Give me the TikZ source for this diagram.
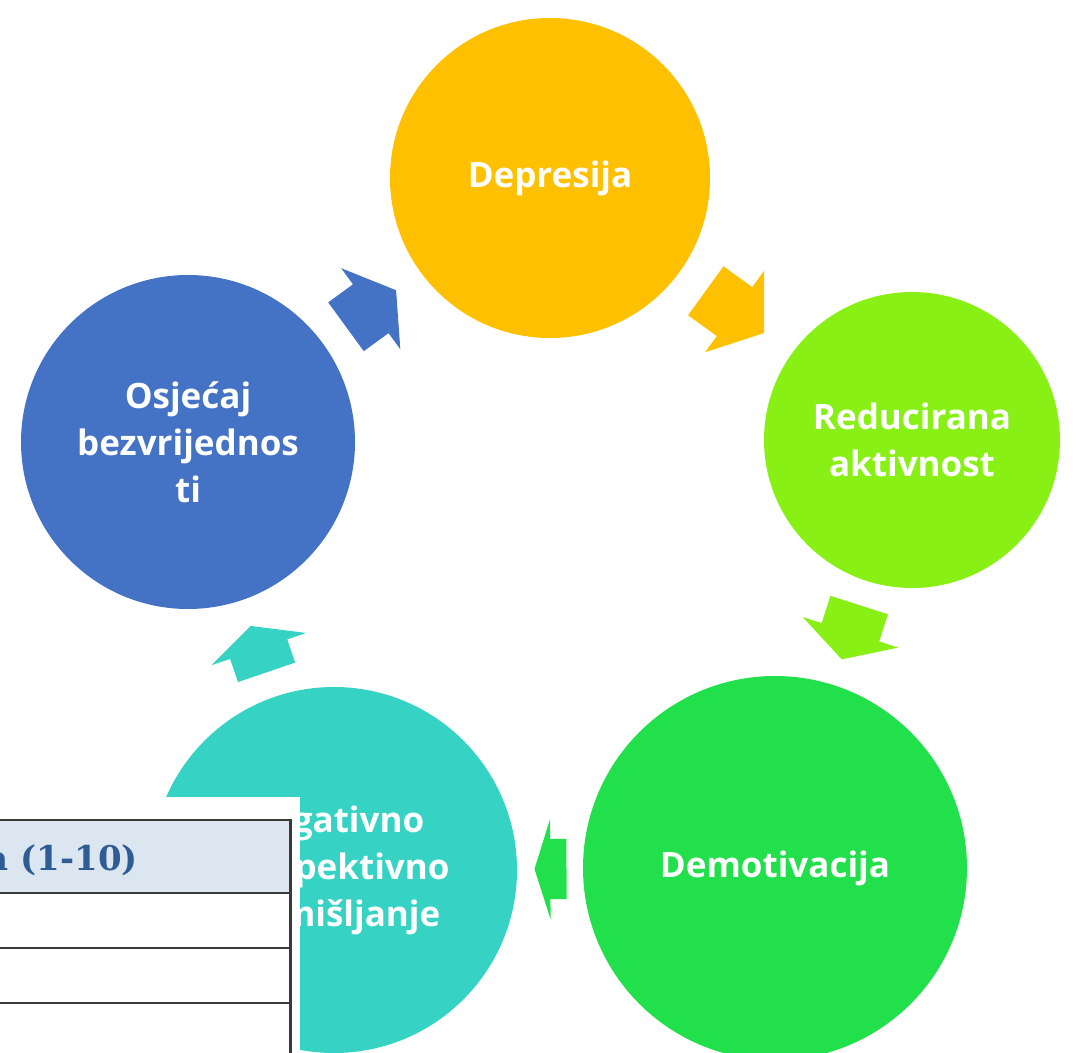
\documentclass[tikz,border=0pt]{standalone}
\usepackage{fontspec}
\setmainfont{Open Sans}
\newfontfamily\tablefont{DejaVu Serif}
\usepackage{tikz}
\usetikzlibrary{shapes.arrows}

\definecolor{depyellow}{HTML}{FFC000}
\definecolor{redlime}{HTML}{88F015}
\definecolor{demgreen}{HTML}{22E04B}
\definecolor{negteal}{HTML}{36D3C5}
\definecolor{osjblue}{HTML}{4472C4}
\definecolor{tablehead}{HTML}{DCE6F1}
\definecolor{tabletext}{HTML}{2E5C95}
\definecolor{tableline}{HTML}{3A3A3A}

\tikzset{
  bubble/.style={circle, inner sep=0pt, text=white, align=center,
    font=\bfseries\fontsize{35}{47}\selectfont},
  cyclearrow/.style={single arrow, inner xsep=0pt, inner ysep=30pt,
    single arrow head extend=20pt, midway, sloped, allow upside down}
}

\begin{document}
\begin{tikzpicture}[x=1pt,y=1pt]
    \useasboundingbox (0,0) rectangle (1076,-1052);

    % draw circles
    \node[bubble, fill=depyellow, minimum size=320pt] (dep) at (550,-178) {Depresija};
    \node[bubble, fill=redlime, minimum size=296pt] (red) at (912,-440) {Reducirana\\aktivnost};
    \node[bubble, fill=demgreen, minimum size=384pt] (dem) at (775,-868) {Demotivacija};
    \node[bubble, fill=negteal, minimum size=366pt] (neg) at (334,-870) {Negativno\\perspektivno\\razmišljanje};
    \node[bubble, fill=osjblue, minimum size=334pt] (osj) at (188,-442) {Osjećaj\\bezvrijednos\\ti};

    % draw arrows between circles
    \foreach \a/\b/\col/\len/\tip in {osj/dep/osjblue/62/116, dep/red/depyellow/72/108,
        red/dem/redlime/57/121, dem/neg/demgreen/32/145, neg/osj/negteal/49/128}
    \path (\a) -- (\b) node[cyclearrow, fill=\col, minimum height=\len pt,
      single arrow tip angle=\tip, xshift={-50/(3*tan(\tip/2))}] {};

    % draw table on top
    \fill[white] (0,-797) rectangle (300,-1060);
    \fill[tablehead] (0,-820) rectangle (290,-893);
    \draw[tableline, line width=2pt] (-5,-820) -- (290,-820);
    \foreach \y in {893,948,1003}
    \draw[tableline, line width=2pt] (-5,-\y) -- (290,-\y);
    \draw[tableline, line width=3pt] (290,-819) -- (290,-1060);
    \node[anchor=base east, inner sep=0pt, text=tabletext,
      font=\tablefont\bfseries\fontsize{34}{40}\selectfont] (score) at (138,-870) {a (1-10)};
\end{tikzpicture}
\end{document}
